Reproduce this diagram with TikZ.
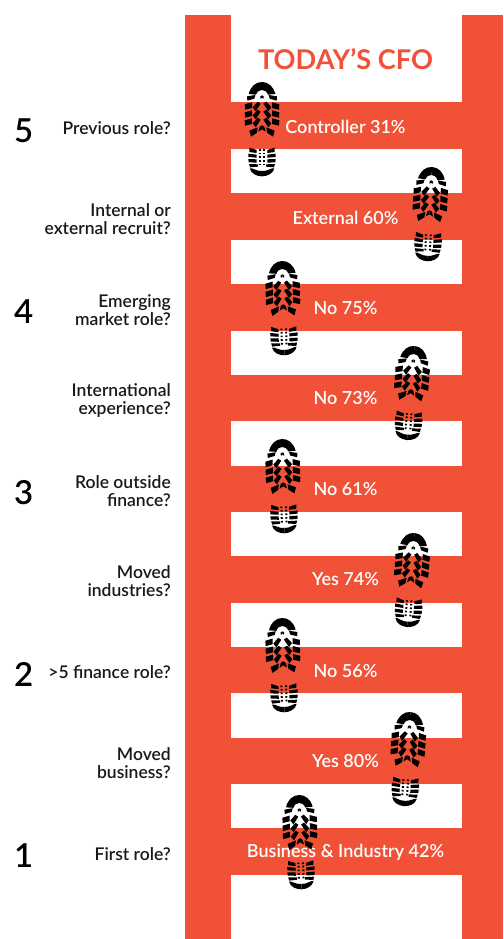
\documentclass[tikz,border=0pt]{standalone}
\usepackage{fontspec}
\setmainfont{Lato}
\newfontfamily\medfont{Lato Semibold}
\definecolor{ladder}{HTML}{F15237}
\newcommand{\halfbootlugs}{%
    \fill[lug] (96,35) .. controls (115,35) and (130,48) .. (136,71) -- (114,73) .. controls (110,63) and (104,59) .. (96,59) -- cycle;
    \fill[lug] (116,74) -- (141,78) -- (140,91) -- (119,85) -- cycle;
    \fill[lug] (96,75) -- (101,78) -- (101,85) -- (96,83) -- cycle;
    \foreach \d in {0,24,48}{
      \fill[lug] (126,{96+\d}) -- (148,{102+\d}) -- (147,{118+\d}) -- (126,{113+\d}) -- cycle;
      \fill[lug] (100,{100+\d}) -- (109,{94+\d}) -- (124,{111+\d}) -- (115,{123+\d}) -- cycle;
    }
    \fill[lug] (109,171) -- (134,181) -- (129,199) -- (111,187) -- cycle;
    \fill[lug] (96,165) -- (103,169) -- (107,184) -- (96,177) -- cycle;
    \fill[lug] (112,239) -- (134,232) -- (134,245) -- (112,248) -- cycle;
    \fill[lug] (112,253) -- (137,250) -- (137,260) -- (112,262) -- cycle;
    \fill[lug] (112,267) -- (137,266) -- (136,276) -- (112,277) -- cycle;
    \fill[lug] (108,282) -- (135,281) -- (132,291) -- (108,289) -- cycle;
    \fill[lug] (96,302) -- (108,301) -- (127,294) -- (133,294) .. controls (129,310) and (112,318) .. (96,318) -- cycle;
    \foreach \yy in {240,250,261,272,283}{
      \fill[lug] (100,{\yy-2.5}) rectangle (106,{\yy+2.5});
    }
}
\tikzset{
  rail/.style={fill=ladder,draw=none},
  rung/.style={fill=ladder,draw=none},
  lug/.style={fill=black,draw=none},
  steplabel/.style={anchor=east,align=right,font=\medfont\fontsize{17.5}{18}\selectfont,text=black!90,inner sep=0pt},
  stepnum/.style={anchor=west,font=\medfont\fontsize{33}{36}\selectfont,text=black,inner sep=0pt},
  rungtext/.style={font=\medfont\fontsize{18}{18}\selectfont,text=white,inner sep=0pt},
  titletext/.style={font=\fontsize{27.2}{28}\selectfont\bfseries,text=ladder,inner sep=0pt},
  bootprint/.pic={
    \begin{scope}[x=.3333pt,y=-.3333pt,shift={(-96,-35)}]
      \halfbootlugs
      \begin{scope}[xshift=64pt,xscale=-1]
        \halfbootlugs
      \end{scope}
    \end{scope}
  }
}
\begin{document}
\begin{tikzpicture}[x=1pt,y=-1pt]
\useasboundingbox (0,0) rectangle (503,939);
\fill[white] (0,0) rectangle (503,939);
\fill[rail] (185,15) rectangle (231,939);
\fill[rail] (462,15) rectangle (503,939);
\foreach \a/\b in {102/149,193/240,284/331,375/421,466/512,556/603,647/693,738/784,828/875}{
  \fill[rung] (231,\a) rectangle (462,\b);
}
\node[titletext] (title) at (345.5,59.5) {TODAY’S CFO};
\node[rungtext] (r9) at (345.5,126.5) {Controller 31\%};
\node[rungtext] (r8) at (345.5,217.5) {External 60\%};
\node[rungtext] (r7) at (345.5,308.5) {No 75\%};
\node[rungtext] (r6) at (345.5,398.5) {No 73\%};
\node[rungtext] (r5) at (345.5,489.5) {No 61\%};
\node[rungtext] (r4) at (345.5,579.5) {Yes 74\%};
\node[rungtext] (r3) at (345.5,671.5) {No 56\%};
\node[rungtext] (r2) at (345.5,761.5) {Yes 80\%};
\node[rungtext] (r1) at (345.5,852.5) {Business \& Industry 42\%};
\node[steplabel] (q9) at (171,128.5) {Previous role?};
\node[steplabel] (q8) at (171,219.5) {Internal or\\external recruit?};
\node[steplabel] (q7) at (171,310.5) {Emerging\\market role?};
\node[steplabel] (q6) at (171,400.5) {International\\experience?};
\node[steplabel] (q5) at (171,491.5) {Role outside\\finance?};
\node[steplabel] (q4) at (171,581.5) {Moved\\industries?};
\node[steplabel] (q3) at (171,672.5) {>5 finance role?};
\node[steplabel] (q2) at (171,763.5) {Moved\\business?};
\node[steplabel] (q1) at (171,854.5) {First role?};
\node[stepnum] (n5) at (14,130.5) {5};
\node[stepnum] (n4) at (14,311.5) {4};
\node[stepnum] (n3) at (14,492.5) {3};
\node[stepnum] (n2) at (14,674.5) {2};
\node[stepnum] (n1) at (14,855.5) {1};
\pic[rotate=0] (b9) at (262,82) {bootprint};
\pic[rotate=-3] (b8) at (432,167) {bootprint};
\pic[rotate=1.5] (b7) at (282,261) {bootprint};
\pic[rotate=-4.5] (b6) at (414.5,346) {bootprint};
\pic[rotate=1.5] (b5) at (282,439) {bootprint};
\pic[rotate=-4.5] (b4) at (414.5,533) {bootprint};
\pic[rotate=1.5] (b3) at (282,618) {bootprint};
\pic[rotate=-4] (b2) at (410.5,712) {bootprint};
\pic[rotate=1.5] (b1) at (299,795) {bootprint};
\end{tikzpicture}
\end{document}
